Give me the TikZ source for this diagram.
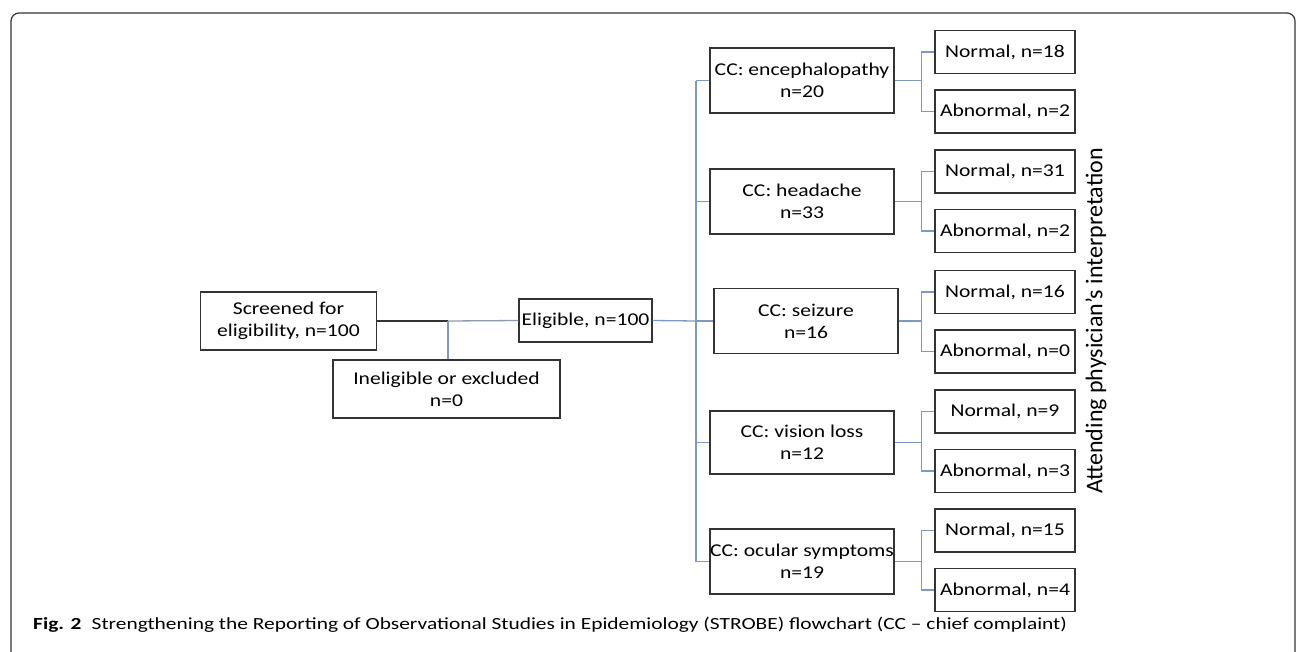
\documentclass[tikz,border=0pt]{standalone}
\usepackage{fontspec}
\setmainfont{Carlito}
\newfontfamily\boxfont[FakeStretch=1.2]{Carlito}
\newfontfamily\capfont[FakeStretch=1.26]{Carlito}
\usetikzlibrary{calc}
\definecolor{linkblue}{HTML}{7D98C6}
\definecolor{linkgray}{HTML}{8C9AAE}
\definecolor{boxline}{HTML}{333333}

\begin{document}
\begin{tikzpicture}[x=1pt,y=-1pt,
  box/.style={draw=boxline,line width=1.3pt,align=center,inner sep=0pt,
    font=\boxfont\fontsize{18}{22}\selectfont},
  cc/.style={box,minimum width=184pt,minimum height=65pt},
  res/.style={box,minimum width=140pt,minimum height=43pt},
  link/.style={draw=linkblue,line width=1.3pt}]
\useasboundingbox (0,0) rectangle (1296,651);
\draw[boxline,line width=1.2pt,rounded corners=8pt] (11,660) -- (11,13) -- (1295,13) -- (1295,660);

\node[box,minimum width=176pt,minimum height=58pt] (scr) at (288.5,321) {Screened for\\eligibility, n=100};
\node[box,minimum width=133pt,minimum height=43pt] (elig) at (585.5,320.5) {Eligible, n=100};
\node[box,minimum width=227pt,minimum height=58pt] (inel) at (446.5,389) {Ineligible or excluded\\n=0};

% chief complaints
\node[cc] (enc) at (802,80.5) {CC: encephalopathy\\n=20};
\node[cc] (head) at (802,201.5) {CC: headache\\n=33};
\node[cc] (seiz) at (806,321) {CC: seizure\\n=16};
\node[cc,minimum height=63pt] (vis) at (802,442.5) {CC: vision loss\\n=12};
\node[cc] (ocu) at (802,561.5) {CC: ocular symptoms\\n=19};

% interpretation
\foreach \nm/\y/\a/\b in {enc/52/18/2,head/171.5/31/2,seiz/292/16/0,vis/411.5/9/3,ocu/530.5/15/4}{
  \node[res] (\nm N) at (1005,\y) {Normal, n=\a};
  \node[res] (\nm A) at (1005,\y+59.5) {Abnormal, n=\b};
}
\node[rotate=90,font=\fontsize{24}{28}\selectfont] (interp) at (1096,321) {Attending physician’s interpretation};

% connectors
\coordinate (jn) at (448,321);
\draw[boxline,line width=1.3pt] (scr.east) -- (scr.east -| jn);
\draw[draw=linkgray,line width=1.3pt] (scr.east -| jn) -- (elig.west);
\draw[link] (jn) -- (jn |- inel.north);
\coordinate (bus) at (696,321);
\draw[link] (elig.east) -- (bus);
\draw[link] (bus |- enc.west) -- (bus |- ocu.west);
\foreach \nm in {enc,head,seiz,vis,ocu}{
  \draw[link] (bus |- \nm.west) -- (\nm.west);
  \coordinate (k\nm) at ($(\nm N.west)+(-13,0)$);
  \draw[link] (\nm.east) -- (\nm.east -| k\nm);
  \draw[link] (\nm N.west) -- (k\nm) |- (\nm A.west);
}

\node[anchor=base west,inner sep=0pt,font=\capfont\fontsize{17}{20}\selectfont] (cap) at (33,629)
  {\textbf{Fig. 2}\hspace{0.6em}Strengthening the Reporting of Observational Studies in Epidemiology (STROBE) flowchart (CC – chief complaint)};
\end{tikzpicture}
\end{document}
